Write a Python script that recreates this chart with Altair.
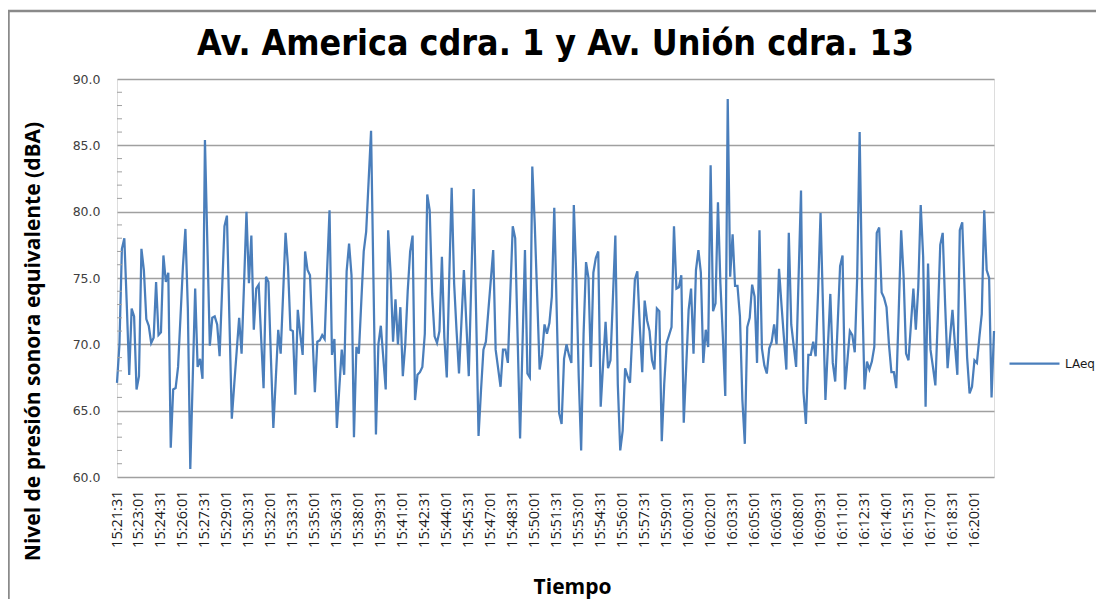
import altair as alt
import pandas as pd

# LAeq readings, one every 10 seconds starting 15:21:31
laeq = [
    67.1, 70.0, 77.2, 78.0, 73.0, 67.7, 72.7, 72.1, 66.6, 67.6,
    77.2, 75.6, 71.9, 71.4, 70.1, 70.5, 74.7, 70.7, 70.9, 76.7,
    74.7, 75.4, 62.2, 66.6, 66.7, 68.3, 72.1, 75.9, 78.7, 72.7,
    60.6, 67.4, 74.2, 68.3, 68.9, 67.4, 85.4, 77.5, 69.9, 72.0,
    72.1, 71.5, 69.1, 74.0, 78.9, 79.7, 72.0, 64.4, 67.0, 69.5,
    72.0, 69.3, 74.5, 80.0, 74.6, 78.2, 71.1, 74.2, 74.5, 70.5,
    66.7, 75.1, 74.7, 69.0, 63.7, 67.4, 71.1, 69.3, 73.8, 78.4,
    75.9, 71.1, 71.0, 66.2, 72.6, 70.8, 69.2, 77.0, 75.6, 75.2,
    70.8, 66.4, 70.2, 70.3, 70.7, 70.4, 75.5, 80.1, 69.2, 70.4,
    63.7, 66.7, 69.6, 67.7, 75.5, 77.6, 75.2, 63.0, 69.8, 69.3,
    73.2, 77.0, 78.5, 82.3, 86.1, 74.6, 63.2, 70.0, 71.4, 69.0,
    66.6, 78.6, 75.4, 70.2, 73.4, 70.0, 72.8, 67.6, 70.0, 74.0,
    77.0, 78.2, 65.8, 67.7, 67.9, 68.3, 70.8, 81.3, 80.1, 73.8,
    70.6, 70.1, 71.0, 76.6, 70.5, 67.5, 75.0, 81.8, 74.6, 71.0,
    67.8, 71.7, 75.6, 71.6, 67.6, 74.6, 81.7, 72.4, 63.1, 66.5,
    69.6, 70.2, 72.5, 74.8, 77.1, 69.6, 68.2, 66.8, 69.6, 69.6,
    68.6, 73.8, 78.9, 78.0, 70.5, 62.9, 70.0, 77.1, 67.8, 67.5,
    83.4, 79.1, 73.6, 68.1, 69.2, 71.5, 70.8, 71.6, 73.6, 80.3,
    72.5, 64.8, 64.0, 68.9, 70.0, 69.2, 68.6, 80.5, 75.2, 67.6,
    62.0, 70.8, 76.2, 75.0, 68.3, 75.4, 76.5, 77.0, 65.3, 68.5,
    71.7, 68.2, 68.8, 73.5, 78.2, 67.0, 62.0, 63.5, 68.2, 67.6,
    67.1, 71.0, 74.9, 75.5, 71.4, 67.9, 73.3, 71.8, 71.0, 68.8,
    68.1, 72.7, 72.5, 62.7, 67.0, 70.1, 70.7, 71.3, 78.9, 74.2,
    74.3, 75.2, 64.1, 68.3, 72.6, 74.2, 69.3, 75.6, 77.1, 75.4,
    68.6, 71.1, 69.8, 83.5, 72.5, 73.1, 80.7, 74.6, 70.6, 66.1,
    88.5, 75.1, 78.3, 74.4, 74.4, 72.1, 65.8, 62.5, 71.3, 72.0,
    74.5, 73.6, 68.6, 78.6, 69.7, 68.4, 67.8, 69.7, 70.2, 71.5,
    70.0, 75.7, 73.0, 70.5, 68.1, 78.4, 71.5, 69.9, 68.3, 75.0,
    81.6, 66.4, 64.0, 69.2, 69.2, 70.2, 69.1, 74.0, 79.9, 72.8,
    65.8, 69.8, 73.8, 68.6, 67.2, 71.5, 75.9, 76.7, 66.6, 68.8,
    71.0, 70.7, 69.4, 75.1, 86.0, 74.3, 66.6, 68.7, 68.1, 68.7,
    69.8, 78.4, 78.8, 73.9, 73.5, 72.8, 70.0, 67.9, 67.9, 66.7,
    72.5, 78.6, 75.1, 69.3, 68.8, 71.5, 74.2, 71.1, 74.3, 80.5,
    76.6, 65.3, 76.1, 69.6, 68.3, 66.9, 72.0, 77.5, 78.4, 73.0,
    68.2, 70.5, 72.6, 70.0, 67.7, 78.6, 79.2, 74.0, 69.0, 66.3,
    66.8, 68.8, 68.6, 70.5, 72.3, 80.1, 75.6, 75.0, 66.0, 71.0,
]

tick_labels = [
    "15:21:31", "15:23:01", "15:24:31", "15:26:01", "15:27:31", "15:29:01",
    "15:30:31", "15:32:01", "15:33:31", "15:35:01", "15:36:31", "15:38:01",
    "15:39:31", "15:41:01", "15:42:31", "15:44:01", "15:45:31", "15:47:01",
    "15:48:31", "15:50:01", "15:51:31", "15:53:01", "15:54:31", "15:56:01",
    "15:57:31", "15:59:01", "16:00:31", "16:02:01", "16:03:31", "16:05:01",
    "16:06:31", "16:08:01", "16:09:31", "16:11:01", "16:12:31", "16:14:01",
    "16:15:31", "16:17:01", "16:18:31", "16:20:01",
]

y_ticks = [60, 65, 70, 75, 80, 85, 90]
minor_ticks = [v for v in range(61, 90) if v % 5 != 0]

times = pd.date_range("2000-01-01 15:21:31", periods=len(laeq), freq="10s").strftime("%H:%M:%S").tolist()
df = pd.DataFrame({"Tiempo": times, "LAeq": laeq, "serie": "LAeq"})
df_minor = pd.DataFrame({"LAeq": minor_ticks})
df_frame = pd.DataFrame({"k": [0]})

title_text = "Av. America cdra. 1 y Av. Unión cdra. 13"
y_title = "Nivel de presión sonora equivalente (dBA)"

x_enc = alt.X(
    "Tiempo:O", sort=None,
    scale=alt.Scale(type="point", padding=0),
    axis=alt.Axis(
        values=tick_labels, labelAngle=270, labelFont="Open Sans", labelFontSize=14.5,
        labelColor="#1a1a1a", labelPadding=13, ticks=False, tickSize=0, domain=False,
        grid=False, labelOverlap=False,
        title="Tiempo", titleFont="Open Sans", titleFontSize=21, titleFontWeight="bold",
        titleColor="black", titleX=455, titleY=116, titleAlign="center",
        titleBaseline="alphabetic",
    ),
)

y_scale = alt.Scale(domain=[60, 90], nice=False, zero=False)

y_enc = alt.Y(
    "LAeq:Q",
    scale=y_scale,
    axis=alt.Axis(
        values=y_ticks, format=".1f", labelFont="DejaVu Sans", labelFontSize=12.5,
        labelColor="#404040", labelPadding=17, ticks=False, tickSize=0, domain=False,
        grid=True, gridColor="#a0a0a0", gridWidth=1.5,
        title=y_title, titleFont="Open Sans", titleFontSize=21, titleFontWeight="bold",
        titleColor="black", titleAngle=270, titleX=-84, titleY=262,
        titleAlign="center", titleBaseline="middle",
    ),
)

line = alt.Chart(df).mark_line(strokeWidth=2.25).encode(
    x=x_enc,
    y=y_enc,
    color=alt.Color(
        "serie:N",
        scale=alt.Scale(range=["#4a7ebb"]),
        legend=alt.Legend(
            title=None, orient="none", legendX=891, legendY=258,
            symbolType="stroke", symbolSize=2500, symbolStrokeWidth=2.25,
            labelFont="DejaVu Sans", labelFontSize=12, labelColor="#1a1a1a", labelOffset=4,
        ),
    ),
)

minor = alt.Chart(df_minor).mark_rule(color="#a0a0a0", strokeWidth=1).encode(
    y=alt.Y("LAeq:Q", scale=y_scale),
    x=alt.value(0),
    x2=alt.value(5),
)

frame = alt.Chart(df_frame).mark_rect(filled=False, stroke="#8a8a8a", strokeWidth=2.5).encode(
    x=alt.value(-108.5), x2=alt.value(1100), y=alt.value(-68), y2=alt.value(700)
)

chart = alt.layer(line, minor, frame).properties(
    width=877,
    height=398,
    title=alt.TitleParams(
        title_text,
        font="Liberation Sans Narrow, DejaVu Sans Condensed, Roboto Condensed, Roboto",
        fontSize=35.5, fontWeight="bold",
        color="black", anchor="middle", frame="group", baseline="alphabetic", offset=-81,
    ),
    autosize=alt.AutoSizeParams(type="none"),
    padding={"left": 109, "top": 71, "right": 102, "bottom": 122},
).configure_view(stroke="#a0a0a0", strokeWidth=1.5).configure(background="white")

chart.save("out.html", embed_options={"renderer": "svg", "actions": False})
